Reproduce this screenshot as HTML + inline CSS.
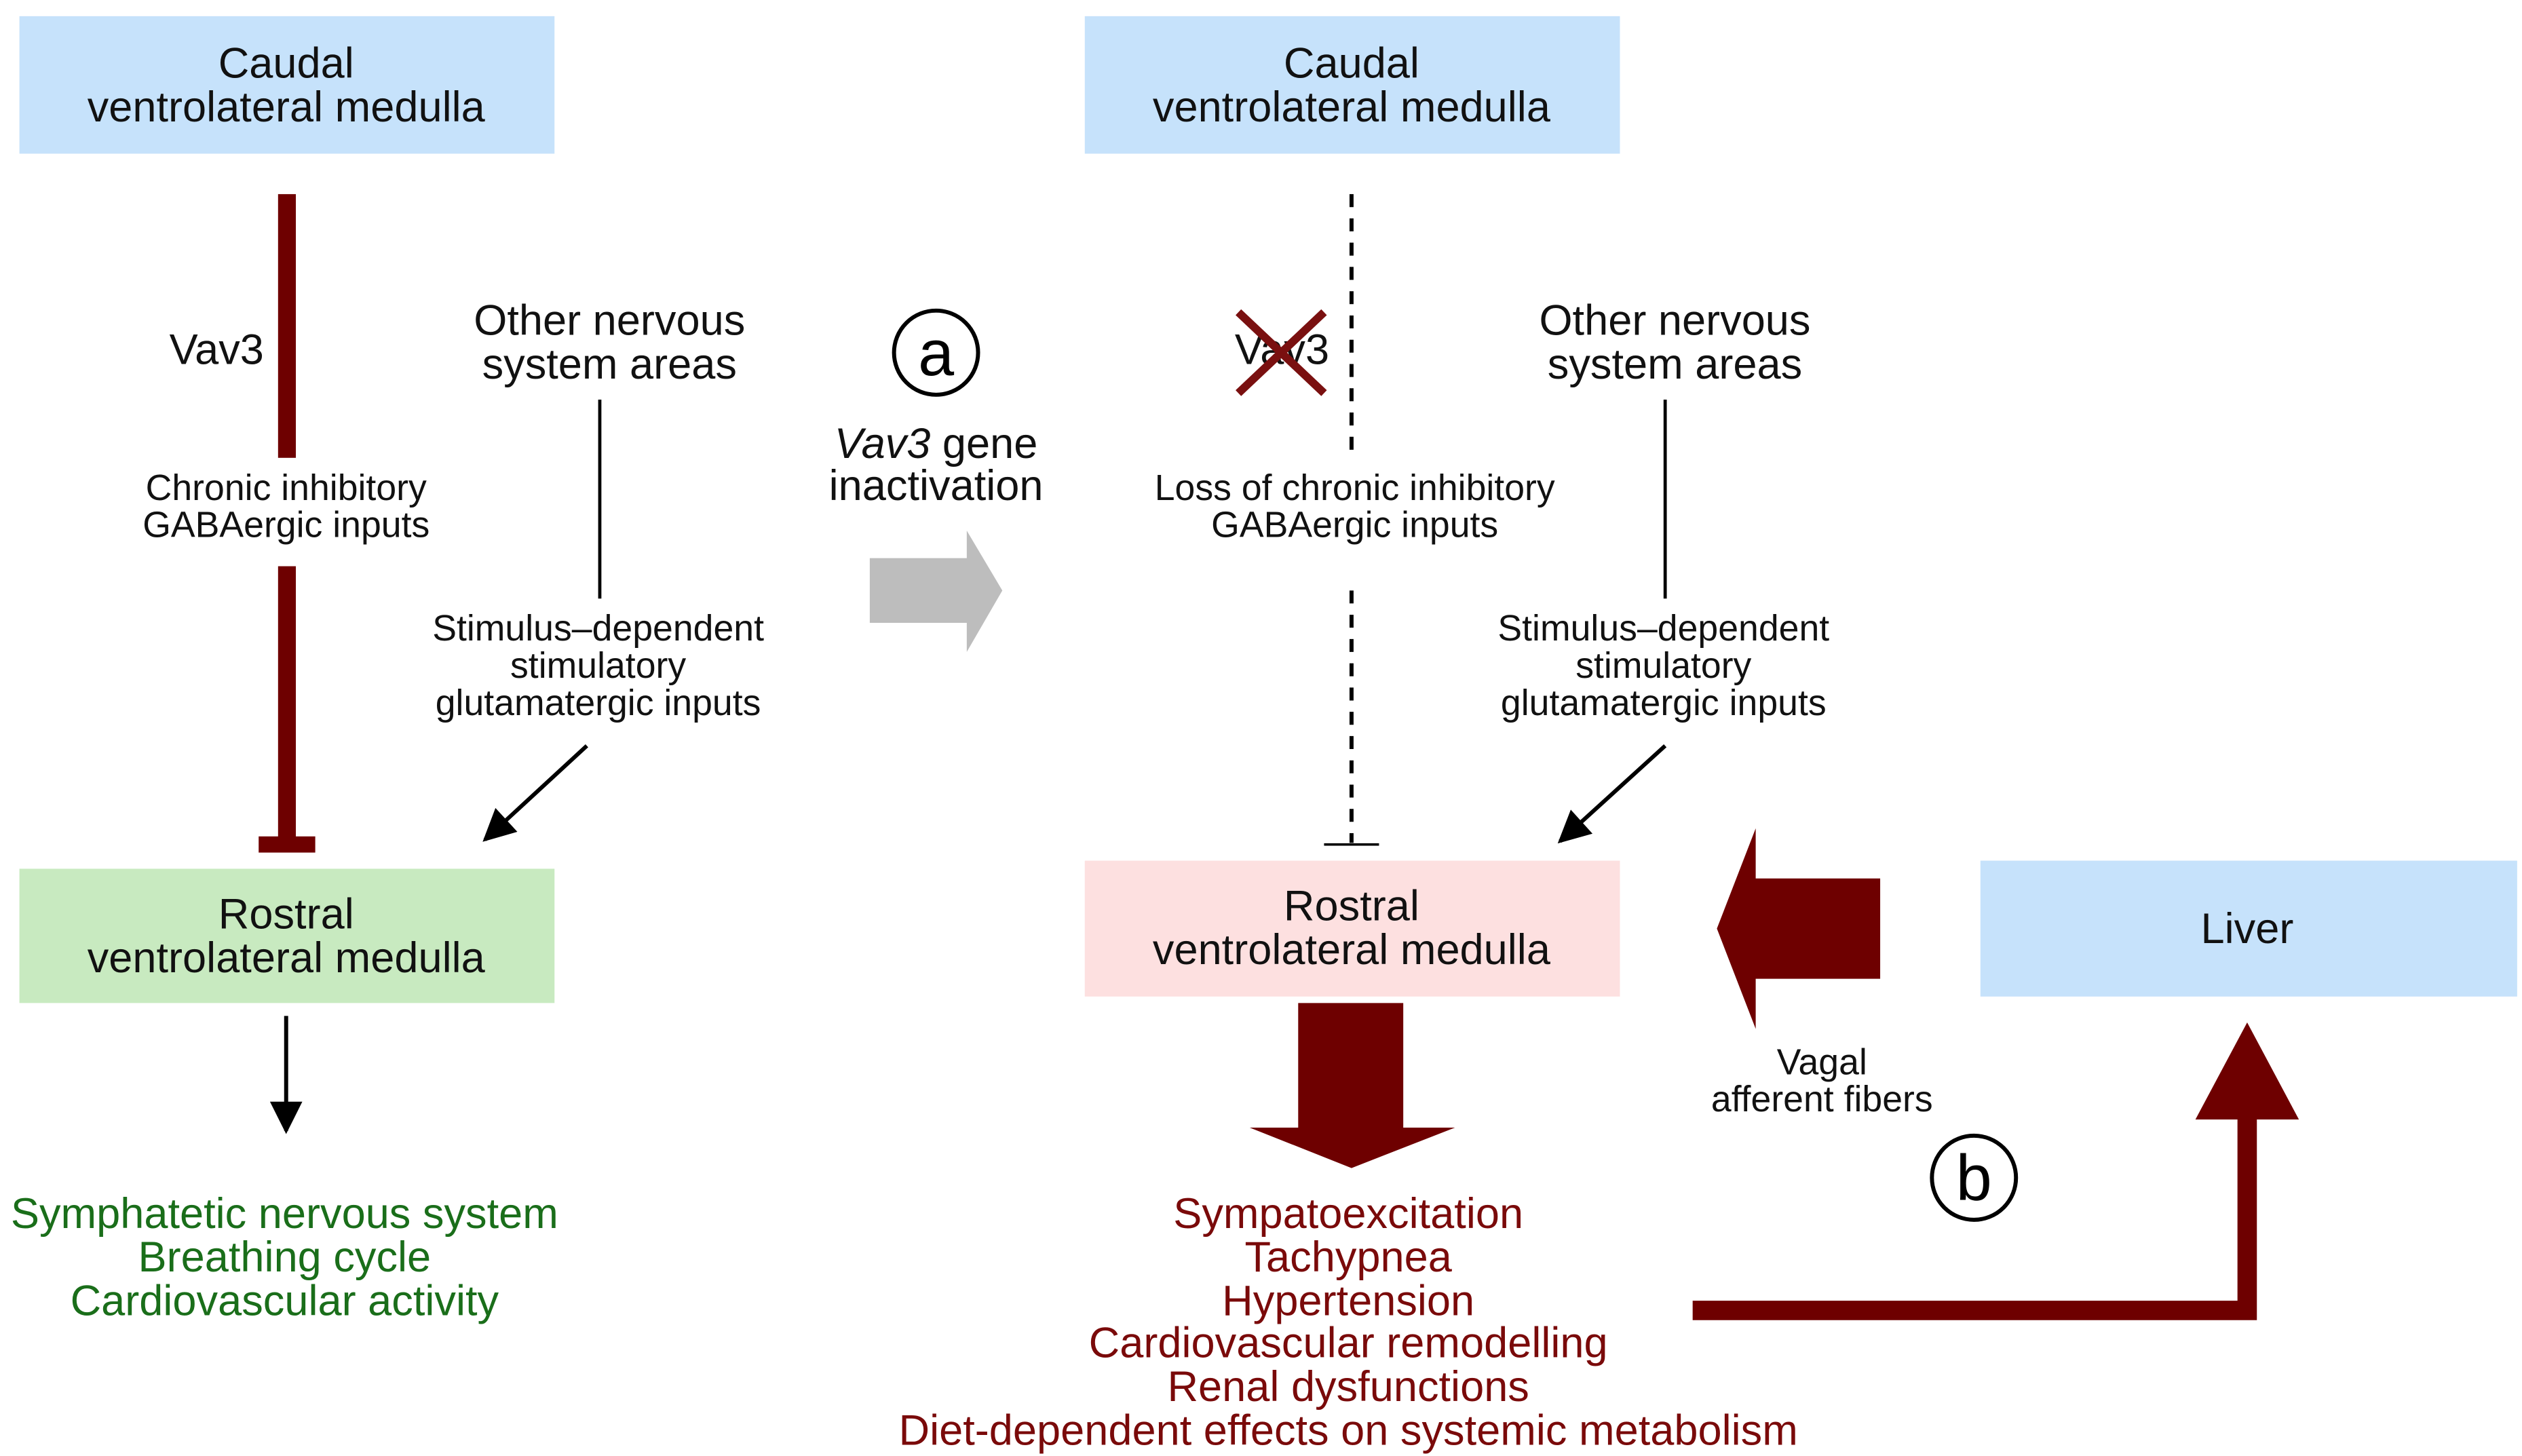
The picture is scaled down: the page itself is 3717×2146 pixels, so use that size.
<!DOCTYPE html>
<html><head><meta charset="utf-8"><style>html,body{margin:0;padding:0;background:#fff}svg{display:block}</style></head>
<body>
<svg width="3717" height="2146" viewBox="0 0 1560 900" preserveAspectRatio="none" xmlns="http://www.w3.org/2000/svg" font-family="'Liberation Sans', sans-serif" text-anchor="middle">
<defs>
<marker id="ah" viewBox="0 0 10 10" refX="9" refY="5" markerWidth="26" markerHeight="20" markerUnits="userSpaceOnUse" orient="auto"><path d="M0,0 L10,5 L0,10 z" fill="#000"/></marker>
</defs>
<rect x="12" y="10" width="331" height="85" fill="#c6e2fb"/>
<rect x="671" y="10" width="331" height="85" fill="#c6e2fb"/>
<rect x="12" y="537" width="331" height="83" fill="#c8eac0"/>
<rect x="671" y="532" width="331" height="84" fill="#fde0e0"/>
<rect x="1225" y="532" width="332" height="84" fill="#c6e2fb"/>
<g font-size="26.5" fill="#111">
<text x="177" y="48">Caudal</text><text x="177" y="75">ventrolateral medulla</text>
<text x="836" y="48">Caudal</text><text x="836" y="75">ventrolateral medulla</text>
<text x="177" y="574">Rostral</text><text x="177" y="601">ventrolateral medulla</text>
<text x="836" y="569">Rostral</text><text x="836" y="596">ventrolateral medulla</text>
<text x="1390" y="583">Liver</text>
<text x="377" y="207">Other nervous</text><text x="377" y="234">system areas</text>
<text x="1036" y="207">Other nervous</text><text x="1036" y="234">system areas</text>
<text x="134" y="225">Vav3</text>
<text x="793" y="225">Vav3</text>
<text x="579" y="283"><tspan font-style="italic">Vav3</tspan> gene</text>
<text x="579" y="309">inactivation</text>
</g>
<g font-size="22.5" fill="#111">
<text x="177" y="309">Chronic inhibitory</text><text x="177" y="332">GABAergic inputs</text>
<text x="370" y="396">Stimulus–dependent</text><text x="370" y="419">stimulatory</text><text x="370" y="442">glutamatergic inputs</text>
<text x="838" y="309">Loss of chronic inhibitory</text><text x="838" y="332">GABAergic inputs</text>
<text x="1029" y="396">Stimulus–dependent</text><text x="1029" y="419">stimulatory</text><text x="1029" y="442">glutamatergic inputs</text>
<text x="1127" y="664">Vagal</text><text x="1127" y="687">afferent fibers</text>
</g>
<rect x="172" y="120" width="11" height="163" fill="#6e0000"/>
<rect x="172" y="350" width="11" height="170" fill="#6e0000"/>
<rect x="160" y="517" width="35" height="10" fill="#6e0000"/>
<line x1="371" y1="247" x2="371" y2="370" stroke="#000" stroke-width="2"/>
<line x1="363" y1="461" x2="300" y2="519" stroke="#000" stroke-width="2.5" marker-end="url(#ah)"/>
<line x1="177" y1="628" x2="177" y2="699" stroke="#000" stroke-width="2.5" marker-end="url(#ah)"/>
<g font-size="26.5" fill="#1a6e1a">
<text x="176" y="759">Symphatetic nervous system</text><text x="176" y="786">Breathing cycle</text><text x="176" y="813">Cardiovascular activity</text>
</g>
<circle cx="579" cy="218" r="26" fill="none" stroke="#000" stroke-width="2.5"/>
<text x="579" y="232" font-size="40" fill="#000">a</text>
<path d="M538,345 H598 V328 L620,365 L598,403 V385 H538 Z" fill="#bdbdbd"/>
<line x1="836" y1="120" x2="836" y2="283" stroke="#000" stroke-width="2.5" stroke-dasharray="8,7"/>
<line x1="836" y1="365" x2="836" y2="521" stroke="#000" stroke-width="2.5" stroke-dasharray="8,7"/>
<line x1="819" y1="522" x2="853" y2="522" stroke="#000" stroke-width="1.5"/>
<path d="M766,193 L819,243 M819,193 L766,243" stroke="#7a1010" stroke-width="5"/>
<line x1="1030" y1="247" x2="1030" y2="370" stroke="#000" stroke-width="2"/>
<line x1="1030" y1="461" x2="965" y2="520" stroke="#000" stroke-width="2.5" marker-end="url(#ah)"/>
<path d="M803,620 H868 V697 H900 L836,722 L773,697 H803 Z" fill="#6e0000"/>
<path d="M1163,543 V605 H1086 V636 L1062,574 L1086,512 V543 Z" fill="#6e0000"/>
<circle cx="1221" cy="728" r="26" fill="none" stroke="#000" stroke-width="2.5"/>
<text x="1221" y="742" font-size="40" fill="#000">b</text>
<path d="M1047,804 H1384 V692 H1358 L1390,632 L1422,692 H1396 V816 H1047 Z" fill="#6e0000"/>
<g font-size="26.5" fill="#7a0a0a">
<text x="834" y="759">Sympatoexcitation</text><text x="834" y="786">Tachypnea</text><text x="834" y="813">Hypertension</text>
<text x="834" y="839">Cardiovascular remodelling</text><text x="834" y="866">Renal dysfunctions</text><text x="834" y="893">Diet-dependent effects on systemic metabolism</text>
</g>
</svg>
</body></html>
